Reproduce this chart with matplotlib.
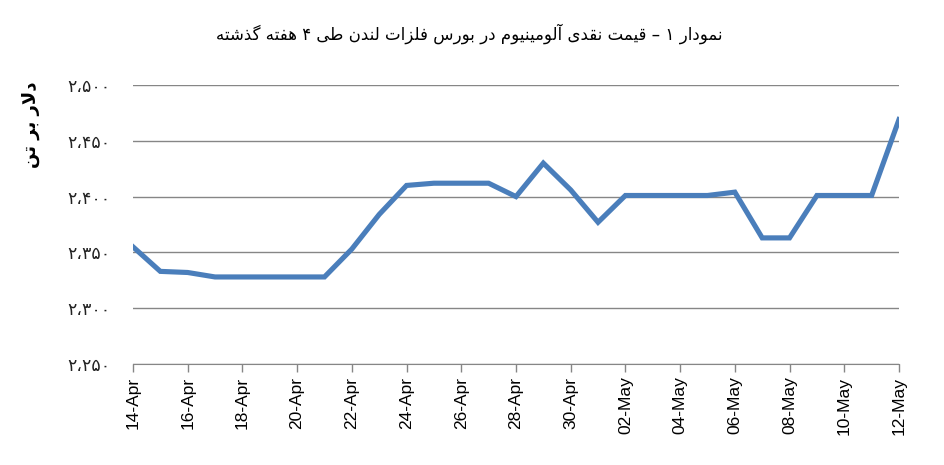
import datetime

import matplotlib

matplotlib.use("Agg")
import matplotlib.dates as mdates
import matplotlib.pyplot as plt
from matplotlib.ticker import FuncFormatter


TITLE = "نمودار ۱ – قیمت نقدی آلومینیوم در بورس فلزات لندن طی ۴ هفته گذشته"
Y_LABEL = "دلار بر تن"

START_DATE = datetime.date(2014, 4, 14)
DAYS = 29
PRICES = [
    2355, 2333, 2332, 2328, 2328, 2328, 2328, 2328, 2353, 2384,
    2410, 2412, 2412, 2412, 2400, 2430, 2406, 2377, 2401, 2401,
    2401, 2401, 2404, 2363, 2363, 2401, 2401, 2401, 2469,
]
Y_TICKS = [2250, 2300, 2350, 2400, 2450, 2500]

LINE_COLOR = "#4A7EBB"
GRID_COLOR = "#868686"

# isolated, final, initial, medial presentation forms
FORMS = {
    "ا": ("\uFE8D", "\uFE8E", None, None),
    "آ": ("\uFE81", "\uFE82", None, None),
    "ب": ("\uFE8F", "\uFE90", "\uFE91", "\uFE92"),
    "ت": ("\uFE95", "\uFE96", "\uFE97", "\uFE98"),
    "د": ("\uFEA9", "\uFEAA", None, None),
    "ذ": ("\uFEAB", "\uFEAC", None, None),
    "ر": ("\uFEAD", "\uFEAE", None, None),
    "ز": ("\uFEAF", "\uFEB0", None, None),
    "س": ("\uFEB1", "\uFEB2", "\uFEB3", "\uFEB4"),
    "ش": ("\uFEB5", "\uFEB6", "\uFEB7", "\uFEB8"),
    "ط": ("\uFEC1", "\uFEC2", "\uFEC3", "\uFEC4"),
    "ف": ("\uFED1", "\uFED2", "\uFED3", "\uFED4"),
    "ق": ("\uFED5", "\uFED6", "\uFED7", "\uFED8"),
    "ل": ("\uFEDD", "\uFEDE", "\uFEDF", "\uFEE0"),
    "م": ("\uFEE1", "\uFEE2", "\uFEE3", "\uFEE4"),
    "ن": ("\uFEE5", "\uFEE6", "\uFEE7", "\uFEE8"),
    "ه": ("\uFEE9", "\uFEEA", "\uFEEB", "\uFEEC"),
    "و": ("\uFEED", "\uFEEE", None, None),
    "ی": ("\uFBFC", "\uFBFD", "\uFBFE", "\uFBFF"),
    "گ": ("\uFB92", "\uFB93", "\uFB94", "\uFB95"),
}
LAM_ALEF = {"ا": ("\uFEFB", "\uFEFC"), "آ": ("\uFEF5", "\uFEF6")}
PERSIAN_DIGITS = "۰۱۲۳۴۵۶۷۸۹"


def dual(ch):
    return ch in FORMS and FORMS[ch][2] is not None


def shape_rtl(text):
    # join letters into presentation forms, then reverse for display
    out = []
    i = 0
    while i < len(text):
        ch = text[i]
        if ch not in FORMS:
            out.append(ch)
            i += 1
            continue
        prev = text[i - 1] if i > 0 else None
        joined_prev = prev is not None and dual(prev)
        if ch == "ل" and i + 1 < len(text) and text[i + 1] in LAM_ALEF:
            iso, fin = LAM_ALEF[text[i + 1]]
            out.append(fin if joined_prev else iso)
            i += 2
            continue
        nxt = text[i + 1] if i + 1 < len(text) else None
        joined_next = dual(ch) and nxt in FORMS
        iso, fin, ini, med = FORMS[ch]
        if joined_prev and joined_next:
            out.append(med)
        elif joined_prev:
            out.append(fin)
        elif joined_next:
            out.append(ini)
        else:
            out.append(iso)
        i += 1
    return "".join(reversed(out))


def persian_number(value, pos=None):
    text = "{:,}".format(int(round(value)))
    text = "".join(PERSIAN_DIGITS[int(c)] if c.isdigit() else c for c in text)
    return text.replace(",", "،")


def main():
    plt.rcParams["font.family"] = ["DejaVu Sans"]
    dates = [START_DATE + datetime.timedelta(days=k) for k in range(DAYS)]

    fig = plt.figure(figsize=(9.45, 4.65), dpi=100)
    ax = fig.add_axes([0.1407, 0.2172, 0.8106, 0.6000])

    ax.plot(dates, PRICES, color=LINE_COLOR, linewidth=3.7, solid_joinstyle="miter", zorder=3)

    ax.set_ylim(Y_TICKS[0], Y_TICKS[-1])
    ax.set_yticks(Y_TICKS)
    ax.yaxis.set_major_formatter(FuncFormatter(persian_number))
    ax.set_xlim(dates[0], dates[-1])
    ax.xaxis.set_major_locator(mdates.DayLocator(interval=2))
    ax.xaxis.set_major_formatter(mdates.DateFormatter("%d-%b"))

    ax.grid(axis="y", color=GRID_COLOR, linewidth=1.0)
    ax.set_axisbelow(True)
    for side in ["top", "right", "left"]:
        ax.spines[side].set_visible(False)
    ax.spines["bottom"].set_color(GRID_COLOR)
    ax.tick_params(axis="y", length=0, pad=16, labelsize=12.5, labelcolor="#222222")
    ax.tick_params(axis="x", length=6, width=1.0, color=GRID_COLOR, pad=3,
                   labelsize=12.5, labelrotation=90)
    for label in ax.get_xticklabels():
        label.set_fontfamily("Liberation Sans")

    ax.set_ylabel(shape_rtl(Y_LABEL), fontsize=13, fontweight="bold", rotation=90)
    ax.yaxis.set_label_coords(-0.121, 0.857)

    fig.text(0.497, 0.928, shape_rtl(TITLE), ha="center", va="center", fontsize=12)

    fig.savefig("out.png", dpi=100)
    plt.close(fig)


if __name__ == "__main__":
    main()
